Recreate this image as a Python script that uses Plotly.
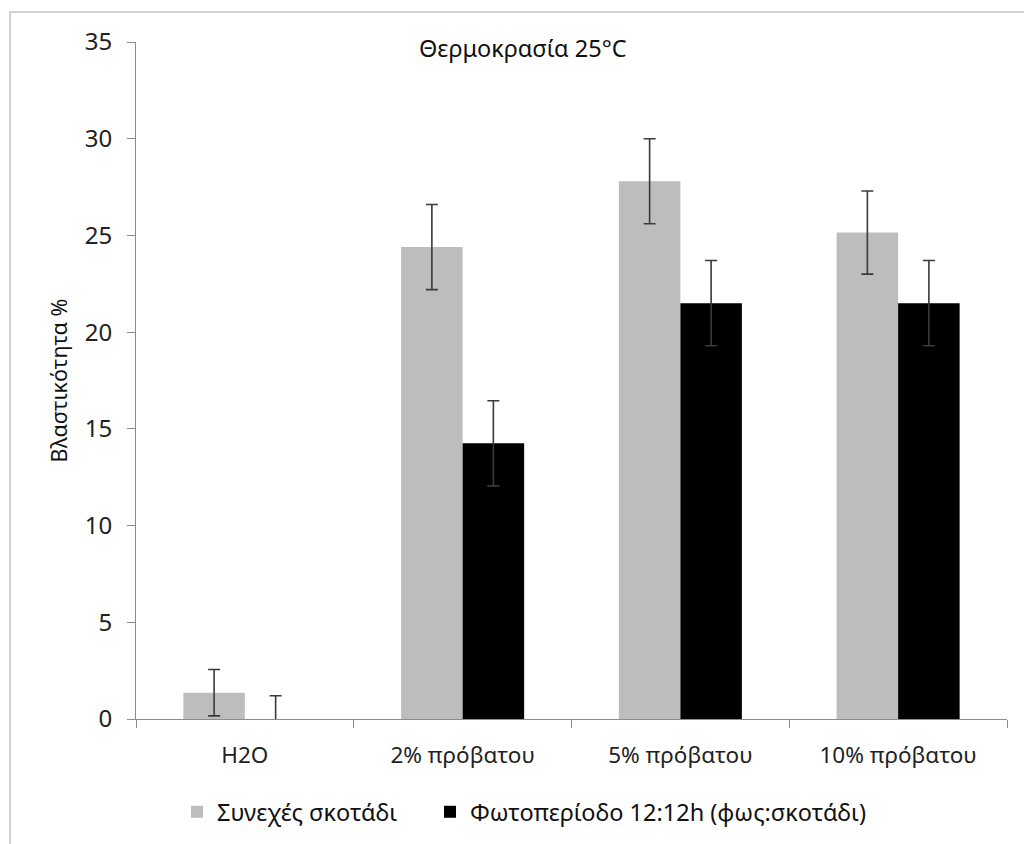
import plotly.graph_objects as go

categories = ["H2O", "2% πρόβατου", "5% πρόβατου", "10% πρόβατου"]
dark_vals = [1.36, 24.4, 27.8, 25.15]
dark_err = [1.2, 2.2, 2.2, 2.15]
photo_vals = [0.0, 14.25, 21.5, 21.5]
photo_err = [1.2, 2.2, 2.2, 2.2]

series_names = ["Συνεχές σκοτάδι", "Φωτοπερίοδο 12:12h (φως:σκοτάδι)"]
y_ticks = [0, 5, 10, 15, 20, 25, 30, 35]

FONT = "Noto Sans"
err_style = dict(color="#3a3a3a", thickness=1.6, width=6)

fig = go.Figure()
fig.add_trace(go.Bar(
    x=categories, y=dark_vals, name=series_names[0], legend="legend",
    marker=dict(color="#bdbdbd", line=dict(width=0)),
    error_y=dict(type="data", array=dark_err, visible=True, **err_style),
))
fig.add_trace(go.Bar(
    x=categories, y=photo_vals, name=series_names[1], legend="legend2",
    marker=dict(color="#000000", line=dict(width=0)),
    error_y=dict(type="data", array=photo_err, visible=True, **err_style),
))

W, H = 1024, 844
L, R, T, B = 136, 17, 42, 125
pw, ph = W - L - R, H - T - B

def px(x):
    return (x - L) / pw

def py(y):
    return (H - B - y) / ph

legend_common = dict(orientation="h", xanchor="left", y=py(812), yanchor="middle",
                     font=dict(family=FONT, size=23.5, color="#111111"),
                     itemwidth=30, bgcolor="rgba(0,0,0,0)")

fig.update_layout(
    width=W, height=H,
    margin=dict(l=L, r=R, t=T, b=B, autoexpand=False),
    paper_bgcolor="white", plot_bgcolor="white",
    barmode="group", bargap=0.435, bargroupgap=0,
    font=dict(family=FONT, size=22, color="#222222"),
    showlegend=True,
    legend=dict(x=px(177), **legend_common),
    legend2=dict(x=px(430), **legend_common),
    xaxis=dict(
        showline=True, linecolor="#8c8c8c", linewidth=1,
        ticks="outside", ticklen=8, tickcolor="#8c8c8c",
        tickson="boundaries", showgrid=False, zeroline=False,
        tickfont=dict(family=FONT, size=22.5, color="#222222"),
        ticklabelstandoff=16, automargin=False,
    ),
    yaxis=dict(
        range=[0, 35], tickvals=y_ticks, showline=True, linecolor="#8c8c8c", linewidth=1,
        ticks="outside", ticklen=8, tickcolor="#8c8c8c",
        showgrid=False, zeroline=False, automargin=False,
        tickfont=dict(family=FONT, size=24, color="#222222"),
        ticklabelstandoff=10,
        title=dict(text="Βλαστικότητα %", font=dict(family=FONT, size=21.5, color="#111111"), standoff=11),
    ),
    annotations=[dict(
        text="Θερμοκρασία 25°C", x=px(523), y=py(48), xref="paper", yref="paper",
        xanchor="center", yanchor="middle", showarrow=False,
        font=dict(family=FONT, size=23.5, color="#111111"),
    )],
    shapes=[dict(
        type="rect", xref="paper", yref="paper",
        x0=px(10), x1=px(1040), y0=py(860), y1=py(12),
        line=dict(color="#c4c4c4", width=1.5), fillcolor="rgba(0,0,0,0)", layer="below",
    )],
)

fig.write_html("out.html")
